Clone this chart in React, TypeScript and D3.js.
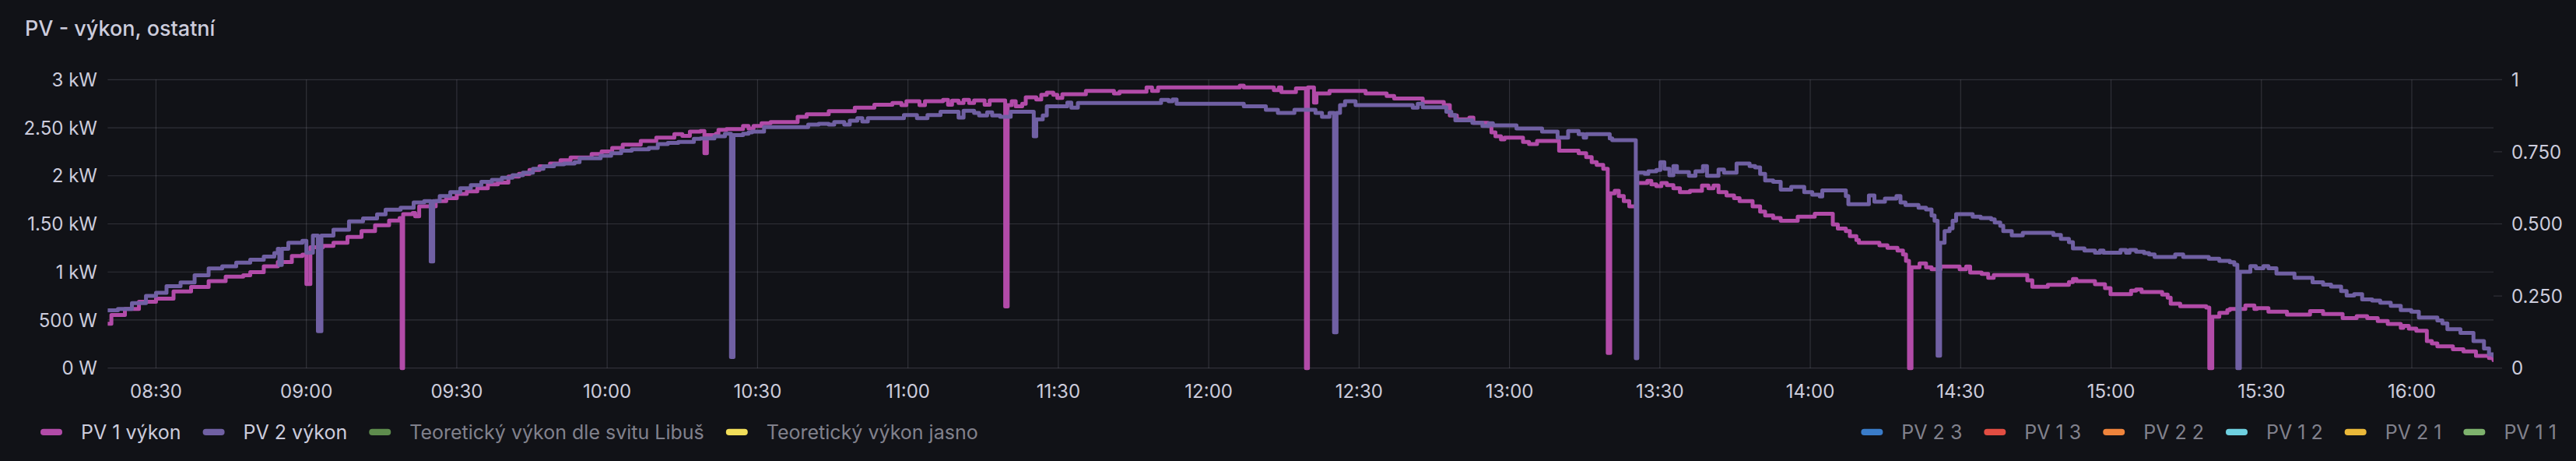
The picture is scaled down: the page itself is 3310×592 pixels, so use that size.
import React, { useMemo } from 'react';
import * as d3 from 'd3';

// ---------- data ----------
const chartTitle = 'PV - výkon, ostatní';

const timeDomain = ['08:20:22', '16:16:18'];

const leftTickValues = [0, 500, 1000, 1500, 2000, 2500, 3000];
const leftTickLabels = ['0 W', '500 W', '1 kW', '1.50 kW', '2 kW', '2.50 kW', '3 kW'];
const rightTickValues = [0, 0.25, 0.5, 0.75, 1];
const rightTickLabels = ['0', '0.250', '0.500', '0.750', '1'];

const pv1Times = [
  '08:20:24', '08:21:06', '08:23:48', '08:26:36', '08:30:00', '08:33:30', '08:37:00', '08:40:30', '08:43:54', '08:47:24',
  '08:48:48', '08:51:30', '08:54:18', '08:57:06', '08:59:12', '09:00:00', '09:00:48', '09:03:18', '09:05:24', '09:08:12',
  '09:11:00', '09:13:42', '09:16:30', '09:18:36', '09:19:00', '09:19:18', '09:21:12', '09:21:42', '09:22:30', '09:25:48',
  '09:27:54', '09:30:00', '09:32:00', '09:34:06', '09:36:12', '09:38:12', '09:40:18', '09:42:24', '09:44:30', '09:46:30',
  '09:48:36', '09:50:42', '09:52:42', '09:56:54', '09:58:54', '10:01:00', '10:03:06', '10:06:42', '10:09:48', '10:13:24',
  '10:15:00', '10:16:30', '10:18:36', '10:19:24', '10:19:54', '10:21:42', '10:22:12', '10:23:48', '10:27:06', '10:28:12',
  '10:29:12', '10:30:48', '10:32:36', '10:38:00', '10:39:48', '10:44:12', '10:49:24', '10:53:18', '10:56:54', '10:58:42',
  '10:59:42', '11:02:18', '11:03:24', '11:07:00', '11:08:00', '11:08:48', '11:10:06', '11:11:06', '11:12:12', '11:13:12',
  '11:15:18', '11:16:18', '11:19:24', '11:19:54', '11:20:42', '11:21:30', '11:22:48', '11:23:30', '11:25:36', '11:26:36',
  '11:27:42', '11:29:00', '11:29:48', '11:30:48', '11:35:30', '11:41:06', '11:42:12', '11:47:36', '11:48:42', '11:49:54',
  '12:06:12', '12:07:00', '12:13:00', '12:14:00', '12:14:30', '12:17:24', '12:19:24', '12:19:48', '12:21:00', '12:21:30',
  '12:24:06', '12:31:18', '12:35:30', '12:37:00', '12:42:42', '12:46:54', '12:48:06', '12:49:30', '12:52:00', '12:52:48',
  '12:55:42', '12:56:24', '12:57:12', '12:58:18', '12:59:00', '13:02:42', '13:03:54', '13:05:30', '13:09:54', '13:13:48',
  '13:15:18', '13:16:24', '13:17:24', '13:18:42', '13:19:36', '13:20:06', '13:21:00', '13:21:48', '13:22:48', '13:23:54',
  '13:25:24', '13:27:30', '13:28:18', '13:29:18', '13:30:18', '13:31:24', '13:32:42', '13:34:00', '13:36:00', '13:38:24',
  '13:39:42', '13:40:42', '13:41:42', '13:43:18', '13:44:48', '13:45:54', '13:48:30', '13:50:00', '13:51:00', '13:52:36',
  '13:54:06', '13:57:30', '14:00:54', '14:04:30', '14:05:30', '14:07:06', '14:07:54', '14:09:12', '14:09:42', '14:13:48',
  '14:15:24', '14:17:24', '14:18:30', '14:19:06', '14:19:42', '14:20:12', '14:21:48', '14:23:06', '14:24:12', '14:26:00',
  '14:29:48', '14:31:06', '14:31:54', '14:34:12', '14:35:30', '14:36:36', '14:43:18', '14:44:18', '14:47:24', '14:51:36',
  '14:52:24', '14:53:06', '14:56:48', '14:58:48', '14:59:54', '15:04:00', '15:05:00', '15:06:06', '15:10:12', '15:11:18',
  '15:11:54', '15:13:48', '15:19:00', '15:19:36', '15:20:12', '15:21:36', '15:23:12', '15:23:42', '15:26:48', '15:28:36',
  '15:29:06', '15:31:24', '15:35:06', '15:39:42', '15:42:18', '15:46:12', '15:49:00', '15:51:06', '15:53:12', '15:55:12',
  '15:57:48', '15:58:18', '15:59:24', '16:00:54', '16:03:00', '16:04:00', '16:05:06', '16:08:12', '16:10:18', '16:12:48',
  '16:15:24', '16:16:18',
];
const pv1Watts = [
  462, 553, 615, 691, 722, 798, 844, 905, 951, 966,
  997, 1058, 1104, 1165, 1180, 875, 1257, 1272, 1303, 1364,
  1425, 1486, 1534, 1560, 0, 1601, 1614, 1579, 1682, 1736,
  1768, 1812, 1839, 1871, 1911, 1930, 1993, 2020, 2060, 2100,
  2128, 2163, 2190, 2227, 2254, 2289, 2325, 2362, 2397, 2433,
  2416, 2460, 2465, 2236, 2424, 2438, 2478, 2487, 2519, 2492,
  2519, 2546, 2560, 2614, 2641, 2673, 2708, 2740, 2757, 2735,
  2776, 2735, 2776, 2789, 2740, 2781, 2757, 2789, 2757, 2784,
  2740, 2784, 642, 2735, 2776, 2722, 2749, 2816, 2794, 2843,
  2865, 2843, 2811, 2848, 2883, 2857, 2875, 2919, 2883, 2919,
  2938, 2919, 2892, 2919, 2870, 2910, 0, 2919, 2762, 2857,
  2883, 2857, 2830, 2803, 2767, 2735, 2627, 2587, 2605, 2551,
  2519, 2451, 2411, 2379, 2398, 2352, 2330, 2362, 2262, 2235,
  2195, 2141, 2114, 2073, 157, 1817, 1844, 1790, 1736, 1682,
  1925, 1947, 1911, 1893, 1925, 1903, 1871, 1830, 1844, 1898,
  1871, 1898, 1830, 1795, 1768, 1736, 1682, 1628, 1587, 1560,
  1533, 1574, 1606, 1493, 1452, 1426, 1372, 1331, 1304, 1277,
  1250, 1223, 1183, 1115, 0, 1048, 1088, 1048, 1029, 1056,
  1029, 1056, 994, 980, 940, 967, 913, 845, 867, 894,
  926, 905, 872, 832, 770, 805, 818, 791, 764, 732,
  670, 643, 629, 0, 535, 575, 602, 616, 651, 616,
  624, 587, 556, 593, 562, 520, 541, 520, 489, 459,
  419, 440, 410, 388, 281, 257, 226, 196, 174, 128,
  104, 83,
];

const pv2Times = [
  '08:20:24', '08:22:24', '08:25:12', '08:28:00', '08:30:00', '08:32:06', '08:34:54', '08:37:42', '08:40:30', '08:43:12',
  '08:46:00', '08:48:48', '08:51:30', '08:53:36', '08:54:18', '08:54:36', '08:55:06', '08:56:24', '08:59:12', '09:00:00',
  '09:01:18', '09:02:18', '09:03:00', '09:05:24', '09:08:30', '09:11:18', '09:14:06', '09:15:48', '09:18:48', '09:21:24',
  '09:23:30', '09:24:48', '09:25:18', '09:26:36', '09:28:42', '09:30:42', '09:32:48', '09:34:54', '09:37:00', '09:39:00',
  '09:41:06', '09:43:12', '09:45:12', '09:47:18', '09:49:24', '09:51:24', '09:53:30', '09:54:30', '09:58:42', '10:00:48',
  '10:02:48', '10:04:54', '10:08:18', '10:10:06', '10:12:06', '10:14:12', '10:17:18', '10:18:36', '10:21:24', '10:23:30',
  '10:24:42', '10:25:12', '10:27:06', '10:28:12', '10:28:54', '10:31:18', '10:40:06', '10:42:12', '10:44:12', '10:45:18',
  '10:47:18', '10:48:24', '10:49:54', '10:50:54', '10:52:00', '10:59:12', '11:01:48', '11:03:54', '11:06:30', '11:10:06',
  '11:11:06', '11:13:12', '11:14:12', '11:15:48', '11:16:48', '11:18:24', '11:20:30', '11:25:06', '11:25:36', '11:26:54',
  '11:27:42', '11:31:48', '11:32:36', '11:33:54', '11:50:30', '11:52:00', '11:52:48', '11:53:36', '12:07:00', '12:11:24',
  '12:13:48', '12:17:06', '12:21:18', '12:22:36', '12:24:06', '12:25:00', '12:25:30', '12:26:12', '12:27:12', '12:29:18',
  '12:40:42', '12:41:42', '12:42:42', '12:47:24', '12:48:24', '12:49:12', '12:52:36', '12:54:36', '12:55:54', '12:56:42',
  '13:01:24', '13:06:30', '13:09:36', '13:11:42', '13:13:48', '13:14:48', '13:15:18', '13:20:00', '13:20:30', '13:25:12',
  '13:25:30', '13:27:00', '13:27:42', '13:29:18', '13:30:06', '13:30:54', '13:31:54', '13:32:42', '13:33:24', '13:35:48',
  '13:37:06', '13:38:36', '13:39:24', '13:41:42', '13:42:48', '13:45:18', '13:47:54', '13:49:00', '13:50:00', '13:51:00',
  '13:52:36', '13:54:06', '13:56:12', '13:58:48', '14:00:24', '14:01:54', '14:02:24', '14:07:06', '14:07:36', '14:11:42',
  '14:12:48', '14:14:54', '14:17:12', '14:18:00', '14:19:00', '14:21:36', '14:23:06', '14:24:12', '14:24:48', '14:25:24',
  '14:25:54', '14:26:48', '14:27:48', '14:28:24', '14:29:06', '14:32:24', '14:34:00', '14:36:06', '14:36:48', '14:37:54',
  '14:38:30', '14:40:12', '14:42:24', '14:48:30', '14:50:00', '14:51:36', '14:52:24', '14:54:42', '14:56:48', '14:57:48',
  '14:58:30', '15:01:54', '15:03:00', '15:03:42', '15:05:00', '15:06:36', '15:07:36', '15:08:42', '15:12:48', '15:14:24',
  '15:19:30', '15:21:36', '15:23:42', '15:24:36', '15:25:12', '15:25:42', '15:27:48', '15:28:54', '15:30:24', '15:31:24',
  '15:33:00', '15:36:36', '15:40:12', '15:42:18', '15:43:54', '15:45:54', '15:47:00', '15:48:30', '15:50:06', '15:52:06',
  '15:53:42', '15:55:48', '15:57:48', '15:59:54', '16:01:24', '16:05:06', '16:06:06', '16:07:06', '16:09:42', '16:12:18',
  '16:14:24', '16:15:24', '16:16:18',
];
const pv2Watts = [
  600, 615, 675, 750, 783, 853, 890, 966, 1037, 1058,
  1098, 1128, 1159, 1196, 1241, 1073, 1241, 1303, 1324, 1200,
  1379, 385, 1379, 1440, 1526, 1557, 1600, 1648, 1668, 1722,
  1736, 1110, 1736, 1790, 1830, 1871, 1903, 1938, 1957, 1979,
  2006, 2033, 2074, 2100, 2119, 2128, 2141, 2182, 2209, 2235,
  2262, 2276, 2289, 2330, 2343, 2352, 2384, 2389, 2411, 2438,
  116, 2424, 2438, 2451, 2460, 2506, 2532, 2541, 2532, 2560,
  2532, 2573, 2600, 2565, 2600, 2632, 2600, 2632, 2667, 2605,
  2676, 2654, 2627, 2660, 2627, 2613, 2667, 2411, 2587, 2627,
  2722, 2762, 2708, 2757, 2789, 2776, 2794, 2749, 2722, 2686,
  2654, 2686, 2654, 2613, 2654, 372, 2654, 2735, 2776, 2735,
  2708, 2749, 2713, 2667, 2632, 2578, 2551, 2519, 2546, 2524,
  2492, 2460, 2398, 2465, 2433, 2398, 2433, 2389, 2370, 102,
  2033, 2020, 2047, 2060, 2141, 2073, 2006, 2101, 2038, 2001,
  2047, 2101, 2001, 2065, 2033, 2127, 2101, 2087, 2020, 1952,
  1938, 1857, 1884, 1830, 1803, 1785, 1849, 1790, 1704, 1795,
  1731, 1763, 1790, 1722, 1696, 1668, 1650, 1587, 1533, 130,
  1304, 1426, 1453, 1533, 1601, 1574, 1560, 1547, 1515, 1480,
  1426, 1380, 1407, 1385, 1345, 1309, 1245, 1223, 1201, 1223,
  1201, 1228, 1201, 1228, 1210, 1196, 1183, 1156, 1183, 1156,
  1137, 1115, 1101, 1075, 0, 1002, 1061, 1039, 1061, 1039,
  984, 939, 893, 868, 847, 801, 755, 770, 715, 703,
  679, 648, 602, 587, 526, 495, 465, 404, 367, 281,
  205, 144, 128,
];

const leftLegendNames = ['PV 1 výkon', 'PV 2 výkon', 'Teoretický výkon dle svitu Libuš', 'Teoretický výkon jasno'];
const leftLegendColors = ['#B24BA8', '#7060A3', '#5E8C4D', '#F2DE5A'];
const leftLegendActive = [true, true, false, false];
const rightLegendNames = ['PV 2 3', 'PV 1 3', 'PV 2 2', 'PV 1 2', 'PV 2 1', 'PV 1 1'];
const rightLegendColors = ['#3A7CC9', '#E24D42', '#EF843C', '#6ED0E0', '#EAB839', '#7EB26D'];

// ---------- layout / style ----------
const W = 3310;
const H = 592;
const plotLeft = 138.4;
const plotRight = 3204;
const plotTop = 102.3;
const plotBottom = 472.7;
const bg = '#111217';
const textColor = 'rgb(204,204,220)';
const dimText = 'rgba(204,204,220,0.62)';
const gridColor = 'rgba(204,204,220,0.17)';
const fontFamily = 'Inter, "Noto Sans", sans-serif';
const seriesWidth = 5;

const parseTime = (s: string) => {
  const [h, m, sec] = s.split(':').map(Number);
  return new Date(2023, 5, 15, h, m, sec);
};

type Pt = { t: Date; v: number };

function measure(text: string, font: string): number {
  const c = document.createElement('canvas');
  const ctx = c.getContext('2d')!;
  ctx.font = font;
  return ctx.measureText(text).width;
}

export default function App() {
  const x = useMemo(
    () => d3.scaleTime().domain(timeDomain.map(parseTime)).range([plotLeft, plotRight]),
    []
  );
  const yL = useMemo(() => d3.scaleLinear().domain([0, 3000]).range([plotBottom, plotTop]), []);
  const yR = useMemo(() => d3.scaleLinear().domain([0, 1]).range([plotBottom, plotTop]), []);

  const pv1: Pt[] = pv1Times.map((t, i) => ({ t: parseTime(t), v: pv1Watts[i] }));
  const pv2: Pt[] = pv2Times.map((t, i) => ({ t: parseTime(t), v: pv2Watts[i] }));

  const line = d3
    .line<Pt>()
    .x((d) => x(d.t))
    .y((d) => yL(d.v))
    .curve(d3.curveStepAfter);

  const xTicks = x.ticks(d3.timeMinute.every(30)!);
  const fmt = d3.timeFormat('%H:%M');

  const legendFont = `25px Inter`;
  const swW = 28;
  const swH = 8.3;
  const swGap = 24;
  const itemGap = 28;
  const legendY = 554.8;

  let cx = 52;
  const leftItems = leftLegendNames.map((name, i) => {
    const tw = measure(name, legendFont);
    const item = { name, color: leftLegendColors[i], active: leftLegendActive[i], sx: cx, tx: cx + swW + swGap };
    cx = cx + swW + swGap + tw + itemGap;
    return item;
  });

  const rightEnd = 3285;
  const widths = rightLegendNames.map((n) => measure(n, legendFont));
  const total = widths.reduce((a, w) => a + swW + swGap + w, 0) + itemGap * (widths.length - 1);
  let rx = rightEnd - total;
  const rightItems = rightLegendNames.map((name, i) => {
    const item = { name, color: rightLegendColors[i], sx: rx, tx: rx + swW + swGap };
    rx = rx + swW + swGap + widths[i] + itemGap;
    return item;
  });

  return (
    <svg
      width={W}
      height={H}
      style={{ position: 'absolute', left: 0, top: 0, display: 'block', background: bg }}
      fontFamily={fontFamily}
    >
      <rect x={0} y={0} width={W} height={H} fill={bg} />
      <text x={32} y={45.5} fill={textColor} fontSize={27} fontWeight={500}>
        {chartTitle}
      </text>

      <defs>
        <clipPath id="plotClip">
          <rect x={plotLeft} y={plotTop - 10} width={plotRight - plotLeft} height={plotBottom - plotTop + 20} />
        </clipPath>
      </defs>

      {leftTickValues.map((v) => (
        <line key={'h' + v} x1={plotLeft} x2={plotRight} y1={yL(v)} y2={yL(v)} stroke={gridColor} strokeWidth={1.2} />
      ))}
      {xTicks.map((t) => (
        <line
          key={'v' + t.getTime()}
          x1={x(t)}
          x2={x(t)}
          y1={plotTop}
          y2={plotBottom}
          stroke={gridColor}
          strokeWidth={1.2}
        />
      ))}

      {leftTickValues.map((v, i) => (
        <text key={'l' + v} x={125} y={yL(v) + 8.6} textAnchor="end" fill={textColor} fontSize={24}>
          {leftTickLabels[i]}
        </text>
      ))}

      {rightTickValues.map((v, i) => (
        <g key={'r' + v}>
          <line x1={plotRight} x2={plotRight + 11} y1={yR(v)} y2={yR(v)} stroke={gridColor} strokeWidth={1.2} />
          <text x={3227} y={yR(v) + 8.6} fill={textColor} fontSize={24}>
            {rightTickLabels[i]}
          </text>
        </g>
      ))}

      {xTicks.map((t) => (
        <text key={'x' + t.getTime()} x={x(t)} y={510.5} textAnchor="middle" fill={textColor} fontSize={24}>
          {fmt(t)}
        </text>
      ))}

      <g clipPath="url(#plotClip)">
        <path
          d={line(pv1) || ''}
          fill="none"
          stroke={leftLegendColors[0]}
          strokeWidth={seriesWidth}
          strokeLinejoin="round"
          strokeLinecap="round"
        />
        <path
          d={line(pv2) || ''}
          fill="none"
          stroke={leftLegendColors[1]}
          strokeWidth={seriesWidth}
          strokeLinejoin="round"
          strokeLinecap="round"
        />
      </g>

      {leftItems.map((it) => (
        <g key={it.name}>
          <rect x={it.sx} y={legendY - swH / 2} width={swW} height={swH} rx={4} fill={it.color} />
          <text x={it.tx} y={legendY + 9} fill={it.active ? textColor : dimText} fontSize={25}>
            {it.name}
          </text>
        </g>
      ))}
      {rightItems.map((it) => (
        <g key={it.name}>
          <rect x={it.sx} y={legendY - swH / 2} width={swW} height={swH} rx={4} fill={it.color} />
          <text x={it.tx} y={legendY + 9} fill={dimText} fontSize={25}>
            {it.name}
          </text>
        </g>
      ))}
    </svg>
  );
}
